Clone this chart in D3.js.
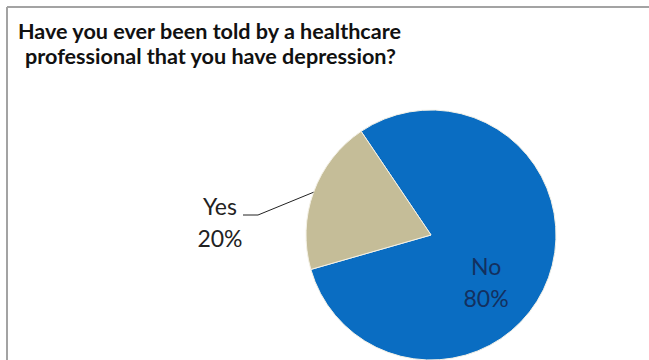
<!DOCTYPE html>
<html>
<head>
<meta charset="utf-8">
<script src="https://cdn.jsdelivr.net/npm/d3@7"></script>
<style>
  html, body { margin: 0; padding: 0; background: #ffffff; }
  svg { display: block; }
</style>
</head>
<body>
<svg id="chart" width="649" height="360"></svg>
<script>
// Survey answers and their shares (percent)
const categories = ["No", "Yes"];
const values = [80, 20];
const sliceColors = ["#0a6dc2", "#c5bd98"];
const titleLines = [
  "Have you ever been told by a healthcare",
  "professional that you have depression?"
];

const W = 649, H = 360;
const svg = d3.select("#chart");

// Chart frame (top and left edges visible)
svg.append("rect").attr("x", 0).attr("y", 0).attr("width", W).attr("height", H).attr("fill", "#fff");
svg.append("line").attr("x1", 7).attr("x2", W).attr("y1", 7).attr("y2", 7)
  .attr("stroke", "#a3a3a3").attr("stroke-width", 2);
svg.append("line").attr("x1", 7).attr("x2", 7).attr("y1", 7).attr("y2", H)
  .attr("stroke", "#a3a3a3").attr("stroke-width", 2);

// Title
const title = svg.append("text")
  .attr("font-family", "Lato, 'Open Sans', sans-serif")
  .attr("font-weight", "bold")
  .attr("font-size", 21.6)
  .attr("fill", "#111");
title.selectAll("tspan").data(titleLines).join("tspan")
  .attr("x", (d, i) => i === 0 ? 18 : 25)
  .attr("y", (d, i) => 39 + i * 24.5)
  .text(d => d);

// Pie geometry
const cx = 431, cy = 235, r = 125;
const startDeg = -34;
const pie = d3.pie().sort(null).value(d => d)
  .startAngle(startDeg * Math.PI / 180)
  .endAngle(startDeg * Math.PI / 180 + 2 * Math.PI);
const arcs = pie(values);
const arc = d3.arc().innerRadius(0).outerRadius(r);

const g = svg.append("g").attr("transform", `translate(${cx},${cy})`);
g.selectAll("path").data(arcs).join("path")
  .attr("d", arc)
  .attr("fill", (d, i) => sliceColors[i])
  .attr("stroke", "#f4f1e6")
  .attr("stroke-width", 1);

const polar = (ang, rad) => [rad * Math.sin(ang), -rad * Math.cos(ang)];
const labelFont = 23;

// "No" label inside its slice
const noAng = 131 * Math.PI / 180;
const [nx, ny] = polar(noAng, 73);
const noLabel = g.append("text")
  .attr("font-family", "Lato, 'Open Sans', sans-serif")
  .attr("font-size", labelFont)
  .attr("fill", "#13305f")
  .attr("text-anchor", "middle");
noLabel.append("tspan").attr("x", nx).attr("y", ny - 8).text(categories[0]);
noLabel.append("tspan").attr("x", nx).attr("y", ny + 24).text(`${values[0]}%`);

// "Yes" label outside with a leader line
const yesArc = arcs[1];
const yesMid = (yesArc.startAngle + yesArc.endAngle) / 2;
const [ex, ey] = polar(yesMid, r);
const lx = -188, ly = -20;
g.append("polyline")
  .attr("points", [[ex, ey], [lx + 15, ly], [lx, ly]].map(p => p.join(",")).join(" "))
  .attr("fill", "none").attr("stroke", "#222").attr("stroke-width", 1);
const yesLabel = g.append("text")
  .attr("font-family", "Lato, 'Open Sans', sans-serif")
  .attr("font-size", labelFont)
  .attr("fill", "#222")
  .attr("text-anchor", "middle");
yesLabel.append("tspan").attr("x", lx - 23).attr("y", ly).text(categories[1]);
yesLabel.append("tspan").attr("x", lx - 23).attr("y", ly + 32).text(`${values[1]}%`);
</script>
</body>
</html>
